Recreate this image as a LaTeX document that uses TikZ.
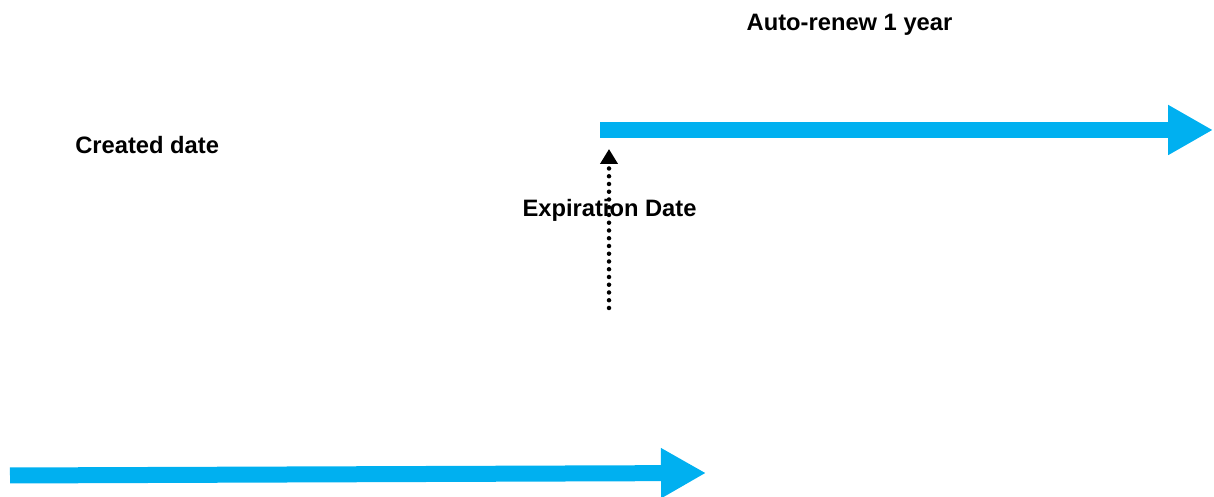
\documentclass[tikz,border=0pt]{standalone}
\usepackage{fontspec}
\setmainfont{Liberation Sans}
\usetikzlibrary{arrows.meta}
\definecolor{renewblue}{RGB}{0,176,240}
\tikzset{bigarrow/.style = {draw=renewblue,line width=0.32cm,-{Triangle[length=0.9cm,width=0.94cm]}},
  dotarrow/.style = {line width=0.09cm,line cap=round,dash pattern=on 0pt off 0.155cm,-{Triangle[length=0.3cm,width=0.34cm]}},
  lbl/.style = {font=\fontsize{13.5pt}{16pt}\selectfont\bfseries,inner sep=0pt}}
\begin{document}
\begin{tikzpicture}
        \useasboundingbox (0,0) rectangle (24.28,9.94);
        \coordinate (renewstart) at (12,7.34);
        \coordinate (renewend) at (24.26,7.34);
        \coordinate (createstart) at (0.2,0.43);
        \coordinate (createend) at (14.12,0.48);
        \coordinate (expbottom) at (12.18,3.78);
        \coordinate (exptop) at (12.18,6.96);
        \draw [bigarrow] (renewstart)--(renewend);
        \draw [bigarrow] (createstart)--(createend);
        \draw [dotarrow] (expbottom)--(exptop);
        \node[lbl] (renew) at (16.99,9.44) {Auto-renew 1 year};
        \node[lbl,anchor=west] (created) at (1.5,7.03) {Created date};
        \node[lbl] (expiry) at (12.19,5.74) {Expiration Date};
    \end{tikzpicture}
\end{document}
